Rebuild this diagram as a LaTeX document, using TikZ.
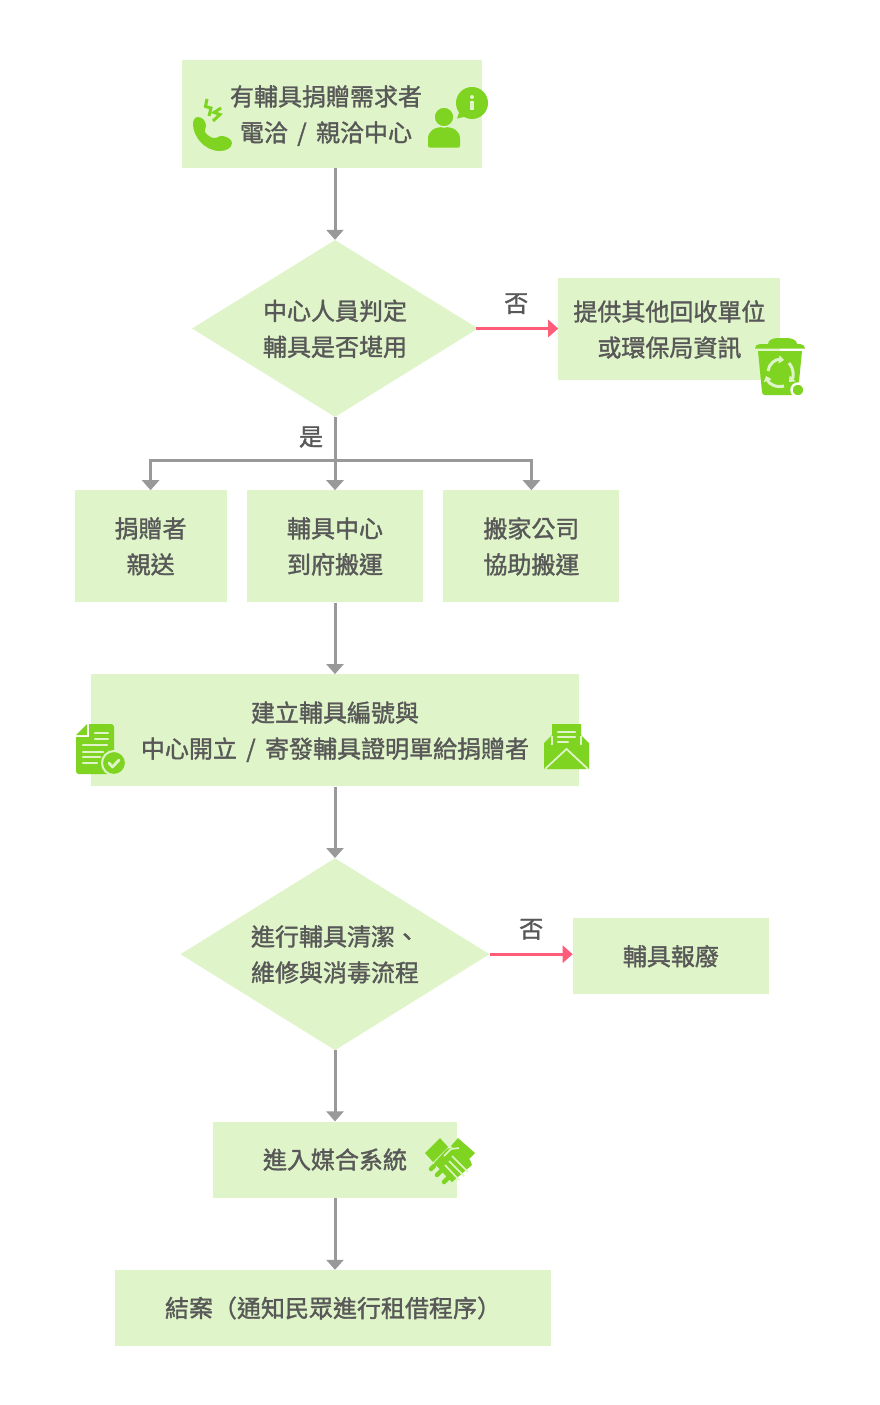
\documentclass[tikz,border=0pt]{standalone}
\usepackage{fontspec}
\usetikzlibrary{shapes.geometric, arrows.meta, positioning}
\newfontfamily\cjk{Noto Sans CJK TC}[FakeBold=1.4]
\definecolor{PaleLeaf}{RGB}{223, 244, 200}
\definecolor{LeafGreen}{RGB}{126, 212, 32}
\definecolor{TextGray}{RGB}{88, 88, 88}
\definecolor{ArrowGray}{RGB}{153, 153, 153}
\definecolor{AlertPink}{RGB}{255, 92, 122}
\newcommand{\slashgap}{\hspace{4pt}/\hspace{4pt}}

\begin{document}
\begin{tikzpicture}[
        x=1pt, y=-1pt,
        font=\cjk\fontsize{24}{36}\selectfont,
        stepbox/.style={fill=PaleLeaf, text=TextGray, align=center, inner sep=0pt, minimum width=#1},
        choice/.style={diamond, fill=PaleLeaf, text=TextGray, align=center, inner sep=0pt},
        lowtext/.style={text depth=1.4pt},
        lbl/.style={text=TextGray, inner sep=0pt},
        flow/.style={-{Triangle[width=17pt,length=10pt]}, ArrowGray, line width=3pt},
        reject/.style={-{Triangle[width=17pt,length=10pt]}, AlertPink, line width=3pt},
        icon/.style={fill=LeafGreen},
        cut/.style={draw=PaleLeaf, line width=#1, line cap=round}
    ]
        \useasboundingbox (0,0) rectangle (880,1405);
        \fill[white] (0,0) rectangle (880,1405);

        \node[choice, lowtext, minimum width=286pt, minimum height=177pt, aspect=1.616] (judge) at (335,328.5) {中心人員判定\\輔具是否堪用};
        \node[stepbox=300pt, minimum height=108pt, above=72pt of judge, xshift=-3pt, label={[lbl, align=center, xshift=-6pt, yshift=-2pt]center:有輔具捐贈需求者\\電洽 \slashgap{} 親洽中心}] (need) {};
        \node[stepbox=222pt, text depth=0pt, minimum height=102pt, right=80pt of judge] (recycle) {提供其他回收單位\\或環保局資訊};

        \node[stepbox=176pt, minimum height=112pt, below=73pt of judge] (visit) {輔具中心\\到府搬運};
        \node[stepbox=152pt, minimum height=112pt, left=20pt of visit] (self) {捐贈者\\親送};
        \node[stepbox=176pt, minimum height=112pt, right=20pt of visit] (mover) {搬家公司\\協助搬運};
        \coordinate (rail) at (335,460.5);

        \node[stepbox=488pt, lowtext, minimum height=112pt, below=71.5pt of visit] (register) {建立輔具編號與\\中心開立 \slashgap{} 寄發輔具證明單給捐贈者};
        \node[choice, lowtext, minimum width=309pt, minimum height=192pt, aspect=1.61, below=71.5pt of register] (clean) {進行輔具清潔、\\維修與消毒流程};
        \node[stepbox=196pt, minimum height=76pt, right=83pt of clean, yshift=-2pt] (scrap) {輔具報廢};
        \node[stepbox=244pt, minimum height=76pt, below=71pt of clean] (match) {進入媒合系統};
        \node[stepbox=436pt, minimum height=76pt, below=72pt of match, xshift=-2pt] (done) {結案（通知民眾進行租借程序）};

        \draw[flow] (judge |- need.south) -- (judge.north);
        \draw[reject, shorten <=-2pt] (judge.east) -- node[lbl, above=13pt, xshift=-2pt] (no1) {否} (recycle.west);
        \draw[flow] (judge.south) -- (visit.north);
        \draw[flow] (rail) -| (self.north);
        \draw[flow] (rail) -| (mover.north);
        \node[lbl] (yes) at (311,437) {是};
        \draw[flow] (visit.south) -- (register.north);
        \draw[flow] (register.south) -- (clean.north);
        \draw[reject] (clean.east) -- node[lbl, above=13pt] (no2) {否} (scrap.west |- clean.east);
        \draw[flow] (clean.south) -- (match.north);
        \draw[flow] (match.south) -- (match.south |- done.north);

        % phone
        \fill[icon] (198,117) .. controls (203,117) and (206,122) .. (206,126) .. controls (206,129) and (204,130) .. (205,132) .. controls (207,135) and (211,138) .. (214,138) .. controls (217,139) and (219,135) .. (223,136) .. controls (228,137) and (232,140) .. (232,143) .. controls (232,148) and (226,151) .. (220,151) .. controls (204,151) and (193,136) .. (193,124) .. controls (193,120) and (195,117) .. (198,117) -- cycle;
        \draw[LeafGreen, line width=3pt] (207,99) -- (205.5,106.5) -- (211,108) -- (209,116);
        \draw[LeafGreen, line width=3pt] (221,108) -- (214,112.5) -- (220,114.5) -- (213,121);

        % person and bubble
        \fill[icon] (428,146) -- (428,139) .. controls (428,131) and (434,127) .. (444,127) .. controls (454,127) and (460,131) .. (460,139) -- (460,146) .. controls (460,147) and (459,147.5) .. (458,147.5) -- (430,147.5) .. controls (429,147.5) and (428,147) .. (428,146) -- cycle;
        \filldraw[fill=LeafGreen, draw=PaleLeaf, line width=1.5pt] (444,117) circle[radius=10];
        \fill[icon] (472,103) circle[radius=16];
        \fill[icon] (460,110) -- (457,118.5) -- (468,116) -- cycle;
        \fill[PaleLeaf] (472,97) circle[radius=2];
        \draw[PaleLeaf, line width=3.4pt] (472,100.5) -- (472,110);

        % bin
        \fill[icon] (768,344) .. controls (768,340) and (773,338) .. (778,338) -- (786,338) .. controls (792,338) and (797,340) .. (797,344) -- (800,344) .. controls (803,344) and (805,346) .. (805,348.5) -- (755,348.5) .. controls (755,346) and (757,344) .. (760,344) -- cycle;
        \fill[icon] (758,351) -- (802,351) -- (798,392) .. controls (798,394) and (797,395) .. (795,395) -- (765,395) .. controls (763,395) and (762,394) .. (762,392) -- cycle;
        \filldraw[fill=LeafGreen, draw=white, line width=2.4pt] (798,390) circle[radius=6.5];
        \draw[PaleLeaf, line width=3pt, -{Triangle[width=8pt,length=5pt]}] (768,371) .. controls (769,364) and (775,359) .. (784,360);
        \draw[PaleLeaf, line width=3pt, -{Triangle[width=8pt,length=5pt]}] (789,363) .. controls (794,369) and (794,377) .. (789,382);
        \draw[PaleLeaf, line width=3pt, -{Triangle[width=8pt,length=5pt]}] (784,386) .. controls (776,388) and (769,384) .. (766,376);

        % document
        \fill[icon] (89,724) -- (111,724) .. controls (113,724) and (114,725) .. (114,727) -- (114,771) .. controls (114,773) and (113,774) .. (111,774) -- (79,774) .. controls (77,774) and (76,773) .. (76,771) -- (76,737) -- (89,737) -- cycle;
        \fill[icon] (76,735) -- (87,724) -- (87,735) -- cycle;
        \draw[cut=2.2pt] (95,733) -- (108,733);
        \draw[cut=2.2pt] (95,739) -- (108,739);
        \draw[cut=2.2pt] (83,745) -- (107,745);
        \draw[cut=2.2pt] (83,752) -- (103,752);
        \draw[cut=2.2pt] (83,757) -- (100,757);
        \draw[cut=2.2pt] (83,763) -- (97,763);
        \filldraw[fill=LeafGreen, draw=PaleLeaf, line width=2pt] (114,763) circle[radius=12];
        \draw[PaleLeaf, line width=2.8pt, line cap=round, line join=round] (109,763) -- (112.5,767) -- (119,760);

        % envelope
        \fill[icon] (552,724) -- (581,724) -- (581,735) -- (589,743) -- (589,769) -- (544,769) -- (544,743) -- (552,735) -- cycle;
        \draw[PaleLeaf, line width=1.8pt] (545,769) -- (566.5,749) -- (588,769);
        \draw[PaleLeaf, line width=1.2pt] (552,736) -- (552,745);
        \draw[PaleLeaf, line width=1.2pt] (581,736) -- (581,745);
        \draw[cut=2.2pt] (558,732) -- (575,732);
        \draw[cut=2.2pt] (558,737) -- (575,737);
        \draw[cut=2.2pt] (558,742) -- (568,742);

        % handshake
        \fill[icon] (440,1138) -- (425,1153) -- (433,1162) -- (448,1147) -- cycle;
        \fill[icon] (458,1138) -- (475,1153) -- (467,1161) -- (451,1146) -- cycle;
        \fill[icon] (434,1163) -- (447,1149) -- (458,1146) -- (470,1160) -- (472,1165) -- (452,1182) -- (446,1176) -- cycle;
        \draw[cut=1.6pt, line cap=butt] (444,1156) -- (451,1149) -- (459,1148);
        \draw[cut=1.6pt, line cap=butt] (452,1156) -- (468,1172);
        \draw[cut=1.6pt, line cap=butt] (449,1161) -- (464,1176);
        \draw[cut=1.6pt, line cap=butt] (445,1165) -- (459,1180);
        \draw[LeafGreen, line width=4.5pt, line cap=round] (431,1169) -- (434,1166);
        \draw[LeafGreen, line width=4.5pt, line cap=round] (437,1175) -- (441,1171);
        \draw[LeafGreen, line width=4.5pt, line cap=round] (444,1182) -- (448,1178);
    \end{tikzpicture}
\end{document}
